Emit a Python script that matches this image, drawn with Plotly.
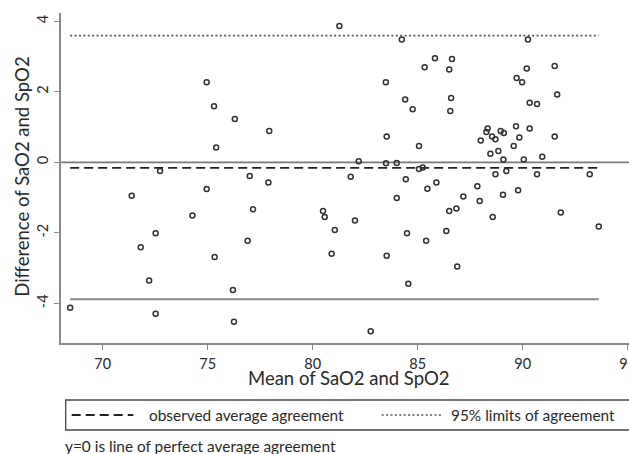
import plotly.graph_objects as go

# ---------------- data ----------------
mean_vals = [
    74.95, 71.38, 72.73, 74.95, 74.27, 72.52, 71.81, 72.21,
    81.27, 84.24, 83.48, 84.40, 75.30, 76.29, 77.93, 75.40, 83.52, 82.19,
    83.49, 84.00, 77.00, 77.89, 81.81, 84.43, 84.00, 77.16, 80.49, 80.57,
    82.01, 81.05, 84.49, 76.90, 75.33, 80.90, 83.52, 76.20, 84.55,
    90.25, 85.82, 86.63, 85.33, 86.50, 90.19, 91.52, 89.71, 89.97, 91.64,
    86.59, 84.76, 86.55, 90.33, 90.68, 88.33, 88.27, 88.00, 88.54, 88.70,
    88.95, 89.10, 89.68, 90.33, 89.84, 91.52, 85.06, 89.57, 88.46, 88.84,
    89.08, 90.05, 90.93, 85.06, 85.24, 88.70, 89.22, 90.68, 93.19, 85.89,
    85.46, 87.84, 87.17, 89.06, 89.78, 87.95, 86.50, 86.84, 88.57, 91.81,
    93.62, 86.36, 85.40, 86.88,
    68.45, 72.52, 76.25, 82.76,
]
diff_vals = [
    2.27, -0.95, -0.25, -0.76, -1.51, -2.01, -2.41, -3.35,
    3.86, 3.48, 2.27, 1.78, 1.59, 1.23, 0.89, 0.42, 0.73, 0.03,
    -0.03, -0.02, -0.39, -0.57, -0.41, -0.48, -1.01, -1.33, -1.38, -1.55,
    -1.65, -1.92, -2.01, -2.22, -2.68, -2.59, -2.65, -3.62, -3.44,
    3.48, 2.95, 2.93, 2.69, 2.63, 2.66, 2.73, 2.39, 2.27, 1.92,
    1.82, 1.50, 1.45, 1.69, 1.65, 0.96, 0.86, 0.62, 0.73, 0.65,
    0.89, 0.83, 1.02, 0.96, 0.70, 0.73, 0.46, 0.46, 0.24, 0.32,
    0.08, 0.08, 0.16, -0.19, -0.15, -0.34, -0.25, -0.34, -0.34, -0.57,
    -0.75, -0.68, -0.97, -0.92, -0.79, -1.10, -1.38, -1.31, -1.55, -1.42,
    -1.82, -1.95, -2.22, -2.95,
    -4.12, -4.29, -4.52, -4.79,
]
mean_diff = -0.16
upper_loa = 3.59
lower_loa = -3.88

x_ticks = [70, 75, 80, 85, 90, 95]
x_tick_labels = ["70", "75", "80", "85", "90", "95"]
y_ticks = [-4, -2, 0, 2, 4]
y_tick_labels = ["-4", "-2", "0", "2", "4"]

x_title = "Mean of SaO2 and SpO2"
y_title = "Difference of SaO2 and SpO2"
legend_labels = ["observed average agreement", "95% limits of agreement"]
footnote = "y=0 is line of perfect average agreement"

# ---------------- layout geometry ----------------
W, H = 629, 454
ML, MR, MT, MB = 61, 0, 13, 111
PW, PH = W - ML - MR, H - MT - MB


def px(xp):
    return (xp - ML) / PW


def py(yp):
    return (H - MB - yp) / PH


FONT = "Lato"
TXT = "#2a2a2a"
AX = "#8a8a8a"

fig = go.Figure()

xmin, xmax = min(mean_vals), max(mean_vals)

# zero line (perfect agreement)
fig.add_trace(go.Scatter(x=[68.0, 95.1], y=[0, 0], mode="lines",
                         line=dict(color="#7a7a7a", width=1.8),
                         hoverinfo="skip", showlegend=False, cliponaxis=False))
# limits of agreement
fig.add_trace(go.Scatter(x=[xmin, xmax], y=[upper_loa, upper_loa], mode="lines",
                         line=dict(color="#555555", width=1.6, dash="2px,2.4px"),
                         hoverinfo="skip", showlegend=False))
fig.add_trace(go.Scatter(x=[xmin, xmax], y=[lower_loa, lower_loa], mode="lines",
                         line=dict(color="#8a8a8a", width=1.8),
                         hoverinfo="skip", showlegend=False))
# observed mean difference
fig.add_trace(go.Scatter(x=[xmin, xmax], y=[mean_diff, mean_diff], mode="lines",
                         line=dict(color="#222222", width=1.8, dash="9px,5px"),
                         hoverinfo="skip", showlegend=False))
# points
fig.add_trace(go.Scatter(x=mean_vals, y=diff_vals, mode="markers",
                         marker=dict(symbol="circle-open", size=5,
                                     line=dict(color="#333333", width=1.5),
                                     color="#333333"),
                         showlegend=False))

fig.update_layout(
    width=W, height=H,
    margin=dict(l=ML, r=MR, t=MT, b=MB, pad=0, autoexpand=False),
    paper_bgcolor="white", plot_bgcolor="white",
    font=dict(family=FONT, color=TXT),
    showlegend=False,
    xaxis=dict(range=[68.014, 95.06], tickvals=x_ticks, ticktext=x_tick_labels,
               showline=True, linecolor=AX, linewidth=1.5, ticks="outside",
               ticklen=5, tickcolor=AX, tickwidth=1.2, showgrid=False,
               zeroline=False, tickfont=dict(size=14.5, color=TXT),
               ticklabeloverflow="allow", ticklabelstandoff=2, automargin=False),
    yaxis=dict(range=[-5.12, 4.23], tickvals=y_ticks, ticktext=y_tick_labels,
               showline=True, linecolor=AX, linewidth=1.5, ticks="outside",
               ticklen=5, tickcolor=AX, tickwidth=1.2, showgrid=False,
               zeroline=False, tickangle=-90, tickfont=dict(size=14.5, color=TXT),
               automargin=False),
)

ann = []
ann.append(dict(text=x_title, x=px(349), y=py(377.5), xref="paper", yref="paper",
                showarrow=False, xanchor="center", yanchor="middle",
                font=dict(size=18.5, color=TXT, family=FONT)))
ann.append(dict(text=y_title, x=px(21.7), y=py(177), xref="paper", yref="paper",
                showarrow=False, xanchor="center", yanchor="middle", textangle=-90,
                font=dict(size=18.5, color=TXT, family=FONT)))
ann.append(dict(text=legend_labels[0], x=px(146.7), y=py(415), xref="paper", yref="paper",
                showarrow=False, xanchor="left", yanchor="middle",
                font=dict(size=15.4, color=TXT, family=FONT)))
ann.append(dict(text=legend_labels[1], x=px(449.3), y=py(415), xref="paper", yref="paper",
                showarrow=False, xanchor="left", yanchor="middle",
                font=dict(size=15.4, color=TXT, family=FONT)))
ann.append(dict(text=footnote, x=px(62.5), y=py(446), xref="paper", yref="paper",
                showarrow=False, xanchor="left", yanchor="middle",
                font=dict(size=15.4, color=TXT, family=FONT)))
fig.update_layout(annotations=ann)

shapes = []
# legend box
shapes.append(dict(type="rect", xref="paper", yref="paper",
                   x0=px(65.7), x1=px(700), y0=py(400), y1=py(430),
                   line=dict(color="#444444", width=1.3), fillcolor="rgba(0,0,0,0)"))
# legend samples
shapes.append(dict(type="line", xref="paper", yref="paper",
                   x0=px(71.7), x1=px(133.3), y0=py(415), y1=py(415),
                   line=dict(color="#222222", width=1.8, dash="9px,5px")))
shapes.append(dict(type="line", xref="paper", yref="paper",
                   x0=px(381.7), x1=px(443.3), y0=py(415), y1=py(415),
                   line=dict(color="#555555", width=1.4, dash="2px,2.4px")))
fig.update_layout(shapes=shapes)

fig.write_html(
    "out.html",
    config={"displayModeBar": False},
    post_script="document.body.style.margin='0px';document.body.style.overflow='hidden';",
)
